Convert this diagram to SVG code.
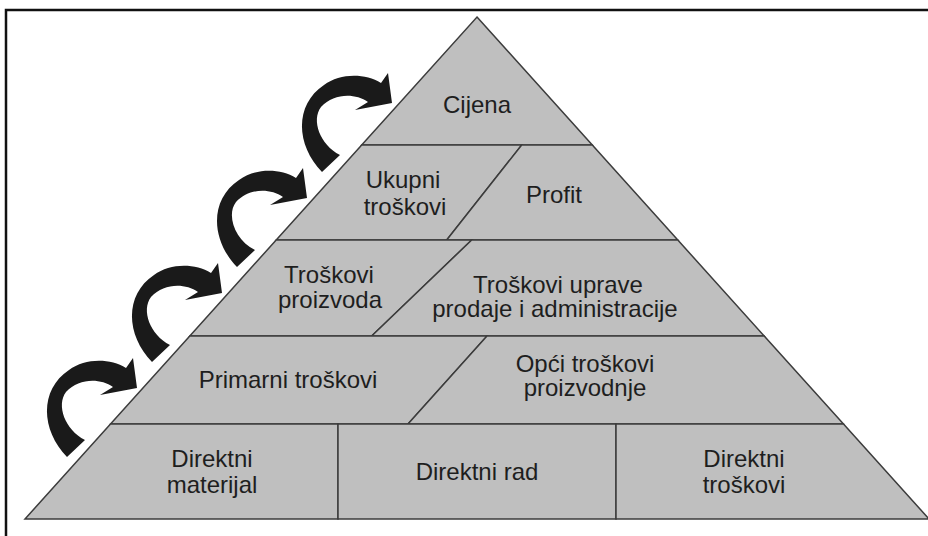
<svg xmlns="http://www.w3.org/2000/svg" xmlns:xlink="http://www.w3.org/1999/xlink" width="928" height="536" viewBox="0 0 928 536">
  <style>
    .cell { fill: #bfbfbf; stroke: #3c3c3c; stroke-width: 1.5; stroke-linejoin: miter; }
    .lbl { font-family: "Liberation Sans", Arial, sans-serif; font-size: 24px; fill: #1e1e1e; text-anchor: middle; }
    .arrow { fill: #1a1a1a; }
    .frame { fill: none; stroke: #111; stroke-width: 2.5; }
  </style>
  <defs>
    <path id="arrowShape" d="M 67,457 C 41,430 39,390 69,370 C 85,358 110,358 126,368 L 133,358 L 137,388 L 100,395 L 113,387 C 100,378 79,378 66,392 C 56,405 65,430 85,440 Z"/>
  </defs>
  <rect x="0" y="0" width="928" height="536" fill="#ffffff"/>
  <rect class="frame" x="6" y="10" width="940" height="560"/>

  <g id="cijena">
    <polygon class="cell" points="477,17 592.3,145 361.7,145"/>
    <text class="lbl" x="477" y="113">Cijena</text>
  </g>
  <g id="ukupni-troskovi">
    <polygon class="cell" points="361.7,145 521.7,145 446.7,240 276.2,240"/>
    <text class="lbl" x="403" y="188">Ukupni</text>
    <text class="lbl" x="405" y="215">troškovi</text>
  </g>
  <g id="profit">
    <polygon class="cell" points="521.7,145 592.3,145 677.8,240 446.7,240"/>
    <text class="lbl" x="554" y="203">Profit</text>
  </g>
  <g id="troskovi-proizvoda">
    <polygon class="cell" points="276.2,240 471.7,240 371.7,336 189.8,336"/>
    <text class="lbl" x="329" y="283">Troškovi</text>
    <text class="lbl" x="330" y="308">proizvoda</text>
  </g>
  <g id="troskovi-uprave">
    <polygon class="cell" points="471.7,240 677.8,240 764.2,336 371.7,336"/>
    <text class="lbl" x="558" y="293">Troškovi uprave</text>
    <text class="lbl" x="555" y="317">prodaje i administracije</text>
  </g>
  <g id="primarni-troskovi">
    <polygon class="cell" points="189.8,336 487,336 408,424 110.5,424"/>
    <text class="lbl" x="288" y="388">Primarni troškovi</text>
  </g>
  <g id="opci-troskovi">
    <polygon class="cell" points="487,336 764.2,336 843.5,424 408,424"/>
    <text class="lbl" x="585" y="372">Opći troškovi</text>
    <text class="lbl" x="585" y="396">proizvodnje</text>
  </g>
  <g id="direktni-materijal">
    <polygon class="cell" points="110.5,424 338,424 338,519 25,519"/>
    <text class="lbl" x="212" y="467">Direktni</text>
    <text class="lbl" x="212" y="493">materijal</text>
  </g>
  <g id="direktni-rad">
    <polygon class="cell" points="338,424 616,424 616,519 338,519"/>
    <text class="lbl" x="477" y="480">Direktni rad</text>
  </g>
  <g id="direktni-troskovi">
    <polygon class="cell" points="616,424 843.5,424 929,519 616,519"/>
    <text class="lbl" x="744" y="467">Direktni</text>
    <text class="lbl" x="744" y="493">troškovi</text>
  </g>

  <g id="connectors">
    <use class="arrow" xlink:href="#arrowShape" href="#arrowShape"/>
    <use class="arrow" xlink:href="#arrowShape" href="#arrowShape" transform="translate(85,-95)"/>
    <use class="arrow" xlink:href="#arrowShape" href="#arrowShape" transform="translate(170,-190)"/>
    <use class="arrow" xlink:href="#arrowShape" href="#arrowShape" transform="translate(255,-285)"/>
  </g>
</svg>
